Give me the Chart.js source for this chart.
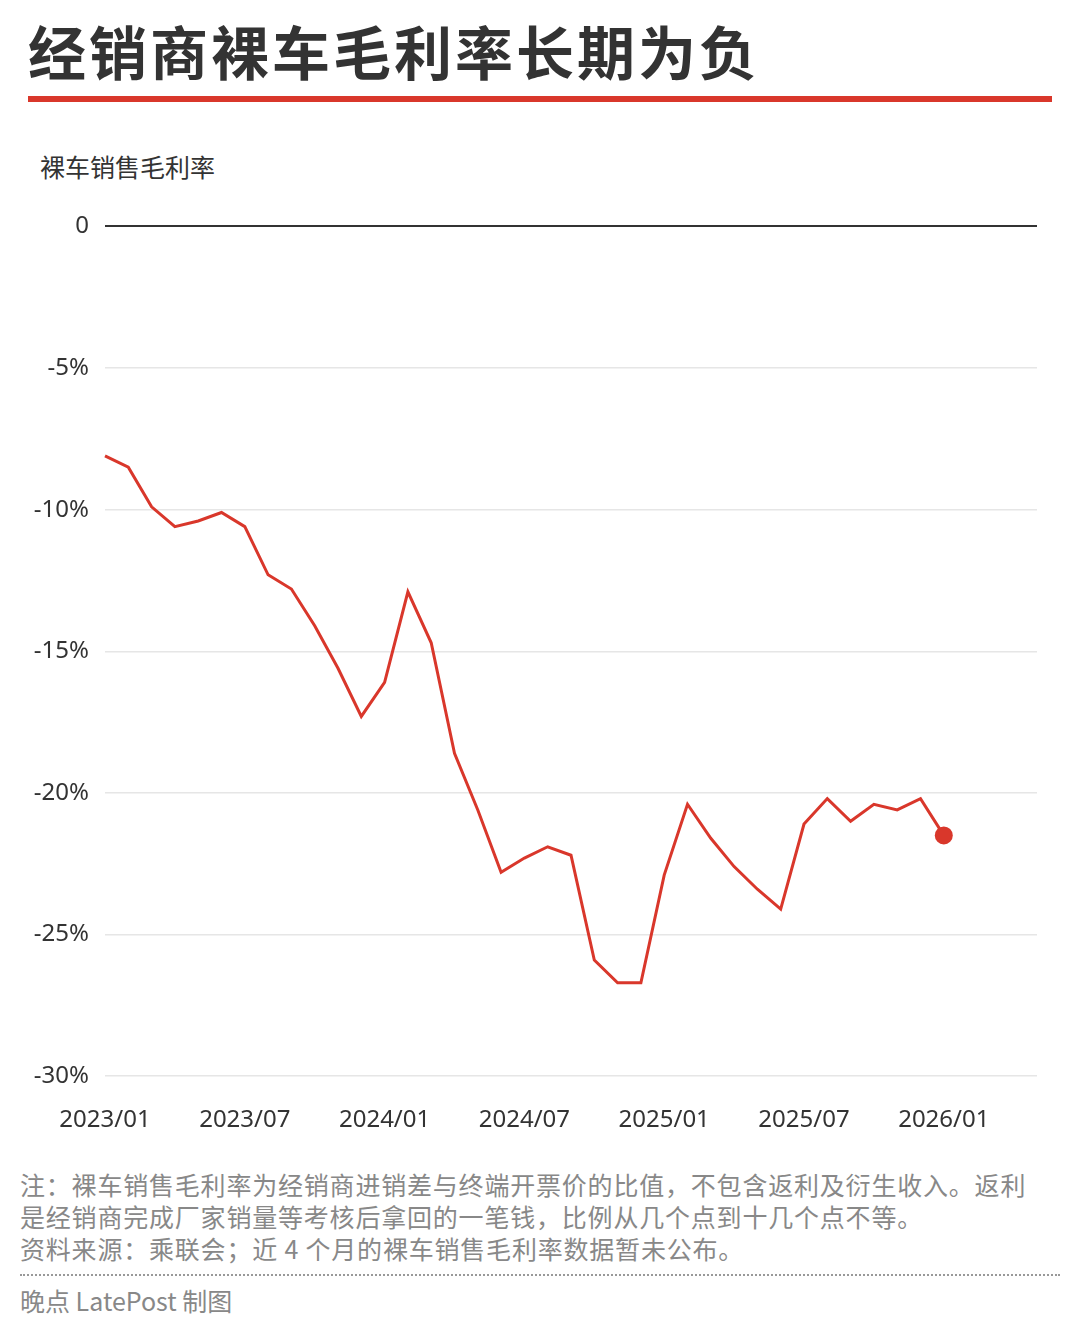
<!DOCTYPE html>
<html><head><meta charset="utf-8">
<script src="https://cdn.jsdelivr.net/npm/chart.js@4"></script>
<style>
body{margin:0;width:1080px;height:1333px;background:#fff;font-family:"Noto Sans CJK SC","Noto Sans",sans-serif;position:relative;overflow:hidden;color:#333}
#title{position:absolute;left:28px;top:8px;font-size:58px;font-weight:700;color:#333;letter-spacing:3px}
#bar{position:absolute;left:28px;top:96px;width:1024px;height:6px;background:#d9372b}
#ylab{position:absolute;left:40px;top:148px;font-size:25px;color:#333}
#wrap{position:absolute;left:0;top:196px;width:1080px;height:961px}
#note{position:absolute;left:20px;top:1168px;font-size:25px;line-height:32px;color:#888;width:1030px;letter-spacing:0.8px}
#sep{position:absolute;left:20px;top:1274px;width:1040px;border-top:2px dotted #999}
#src{position:absolute;left:20px;top:1282px;font-size:25px;color:#888}
</style></head><body>
<div id="title">经销商裸车毛利率长期为负</div>
<div id="bar"></div>
<div id="ylab">裸车销售毛利率</div>
<div id="wrap"><canvas id="c"></canvas></div>
<div id="note">注：裸车销售毛利率为经销商进销差与终端开票价的比值，不包含返利及衍生收入。返利<br>是经销商完成厂家销量等考核后拿回的一笔钱，比例从几个点到十几个点不等。<br>资料来源：乘联会；近 4 个月的裸车销售毛利率数据暂未公布。</div>
<div id="sep"></div>
<div id="src">晚点 LatePost 制图</div>
<script>
const months = [];
for (let y = 2023; y <= 2026; y++) for (let m = 1; m <= 12; m++) { if (y === 2026 && m > 5) break; months.push(y + '/' + String(m).padStart(2, '0')); }
const margin = [-8.1,-8.5,-9.9,-10.6,-10.4,-10.1,-10.6,-12.3,-12.8,-14.1,-15.6,-17.3,
  -16.1,-12.9,-14.7,-18.6,-20.6,-22.8,-22.3,-21.9,-22.2,-25.9,-26.7,-26.7,
  -22.9,-20.4,-21.6,-22.6,-23.4,-24.1,-21.1,-20.2,-21.0,-20.4,-20.6,-20.2,-21.5,
  null,null,null,null];
const yTicks = [0,-5,-10,-15,-20,-25,-30];
const red = '#d9372b';
new Chart(document.getElementById('c'), {
  type: 'line',
  data: { labels: months, datasets: [{ data: margin, borderColor: red, borderWidth: 3, tension: 0,
    pointRadius: margin.map((v, i) => i === 36 ? 9 : 0), pointBackgroundColor: red, pointBorderWidth: 0 }] },
  options: {
    responsive: true, maintainAspectRatio: false, animation: false,
    layout: { padding: { left: 8, right: 43, top: 14, bottom: 0 } },
    plugins: { legend: { display: false }, tooltip: { enabled: false } },
    scales: {
      x: { offset: false, grid: { display: false }, border: { display: false },
        ticks: { autoSkip: false, maxRotation: 0, color: '#333', font: { size: 24, family: 'Noto Sans' }, padding: 22,
          callback: (v, i) => i % 6 === 0 ? months[i] : '' } },
      y: { min: -30, max: 0, afterFit: s => { s.width = 97; }, afterBuildTicks: s => { s.ticks = yTicks.map(v => ({ value: v })); },
        border: { display: false },
        grid: { color: ctx => ctx.tick.value === 0 ? '#333' : '#e6e6e6', lineWidth: ctx => ctx.tick.value === 0 ? 2 : 1.5, drawTicks: false },
        ticks: { color: '#333', font: { size: 24, family: 'Noto Sans' }, padding: 16, callback: v => v === 0 ? '0' : v + '%' } }
    }
  }
});
</script>
</body></html>
